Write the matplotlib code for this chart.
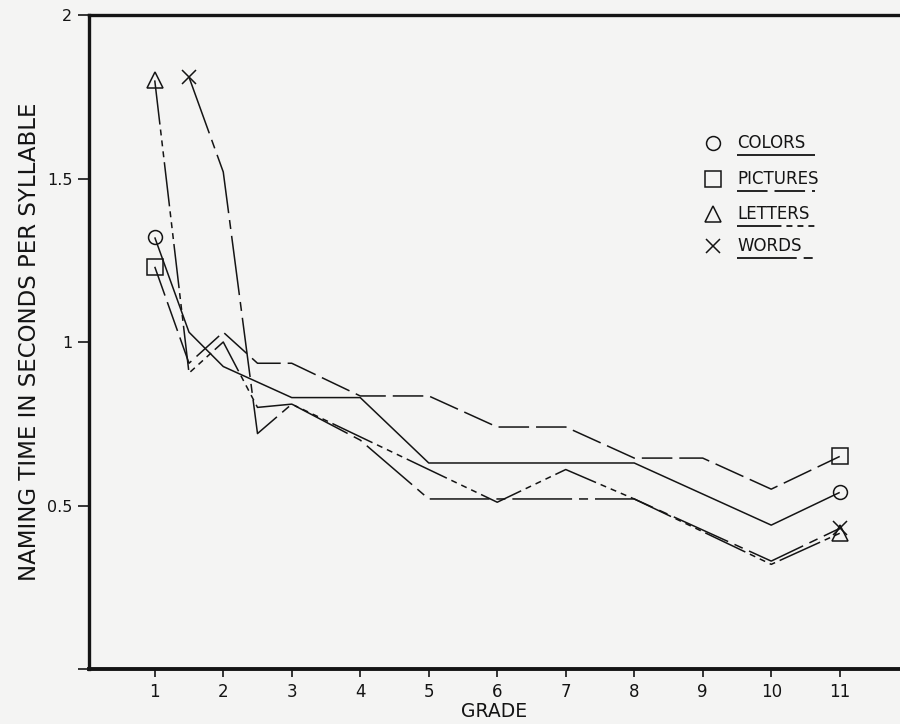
import matplotlib
matplotlib.use("Agg")
import matplotlib.pyplot as plt
from matplotlib.lines import Line2D

plt.rcParams['lines.scale_dashes'] = False
plt.rcParams['font.family'] = ['DejaVu Sans']

# ---- data ----
grade_ticks = [1, 2, 3, 4, 5, 6, 7, 8, 9, 10, 11]
y_ticks = [0, 0.5, 1, 1.5, 2]
y_tick_labels = ['', '0.5', '1', '1.5', '2']

colors_x = [1, 1.5, 2, 3, 4, 5, 8, 10, 11]
colors_y = [1.32, 1.03, 0.925, 0.83, 0.83, 0.63, 0.63, 0.44, 0.54]

pictures_x = [1, 1.5, 2, 2.5, 3, 4, 5, 6, 7, 8, 9, 10, 11]
pictures_y = [1.23, 0.935, 1.03, 0.935, 0.935, 0.835, 0.835, 0.74, 0.74, 0.645, 0.645, 0.55, 0.65]

letters_x = [1, 1.5, 2, 2.5, 3, 6, 7, 8, 10, 11]
letters_y = [1.80, 0.905, 1.0, 0.80, 0.81, 0.51, 0.61, 0.52, 0.32, 0.415]

words_x = [1.5, 2, 2.5, 3, 4, 5, 8, 10, 11]
words_y = [1.81, 1.52, 0.72, 0.81, 0.70, 0.52, 0.52, 0.33, 0.43]

series_names = ['COLORS', 'PICTURES', 'LETTERS', 'WORDS']

# ---- styling ----
ink = '#141414'
paper = '#f4f4f3'
dash_styles = {
    'COLORS': (0, ()),
    'PICTURES': (0, (22, 5)),
    'LETTERS': (0, (32, 3.6, 4.3, 3.6, 4.3, 3.6, 4.3, 3.6)),
    'WORDS': (0, (43, 5, 6.5, 5)),
}
markers = {'COLORS': 'o', 'PICTURES': 's', 'LETTERS': '^', 'WORDS': 'x'}
msizes = {'COLORS': 10, 'PICTURES': 11, 'LETTERS': 11, 'WORDS': 10}

fig = plt.figure(figsize=(9, 7.24), dpi=100, facecolor=paper)
ax = fig.add_axes([89/900, 1-669/724, 1-89/900, (669-15)/724])
ax.set_facecolor(paper)

data = {
    'COLORS': (colors_x, colors_y),
    'PICTURES': (pictures_x, pictures_y),
    'LETTERS': (letters_x, letters_y),
    'WORDS': (words_x, words_y),
}
for name in series_names:
    xs, ys = data[name]
    ax.plot(xs, ys, color=ink, lw=1.1, linestyle=dash_styles[name],
            marker=markers[name], markevery=[0, len(xs)-1], ms=msizes[name],
            mfc='none', mec=ink, mew=1.1, clip_on=False)

ax.set_xlim(0.04, 11.88)
ax.set_ylim(0, 2)
ax.set_xticks(grade_ticks)
ax.set_xticklabels([str(g) for g in grade_ticks], fontsize=12)
ax.set_yticks(y_ticks)
ax.set_yticklabels(y_tick_labels, fontsize=11.5)
ax.tick_params(axis='x', direction='out', length=6, width=1.2, color=ink, pad=4, labelcolor=ink)
ax.tick_params(axis='y', direction='out', length=8, width=1.2, color=ink, pad=4, labelcolor=ink)

for side in ['left', 'top', 'bottom']:
    ax.spines[side].set_color(ink)
ax.spines['left'].set_linewidth(2.4)
ax.spines['top'].set_linewidth(2.4)
ax.spines['bottom'].set_linewidth(2.8)
ax.spines['right'].set_visible(False)

ax.set_xlabel('GRADE', fontsize=13.5, color=ink, labelpad=1)
ax.set_ylabel('NAMING TIME IN SECONDS PER SYLLABLE', fontsize=16.5, color=ink, labelpad=4)

# ---- hand-drawn style legend ----
row_y = [0.804, 0.749, 0.696, 0.647]
for name, yy in zip(series_names, row_y):
    ax.plot([0.769], [yy], transform=ax.transAxes, marker=markers[name],
            ms=msizes[name], mfc='none', mec=ink, mew=1.1, ls='none', clip_on=False)
    ax.text(0.799, yy, name, transform=ax.transAxes, fontsize=12, color=ink,
            va='center', ha='left')
    ax.add_line(Line2D([0.799, 0.895], [yy - 0.018, yy - 0.018], transform=ax.transAxes,
                       color=ink, lw=1.3, linestyle=dash_styles[name]))

fig.savefig('out.png', dpi=100, facecolor=paper)
